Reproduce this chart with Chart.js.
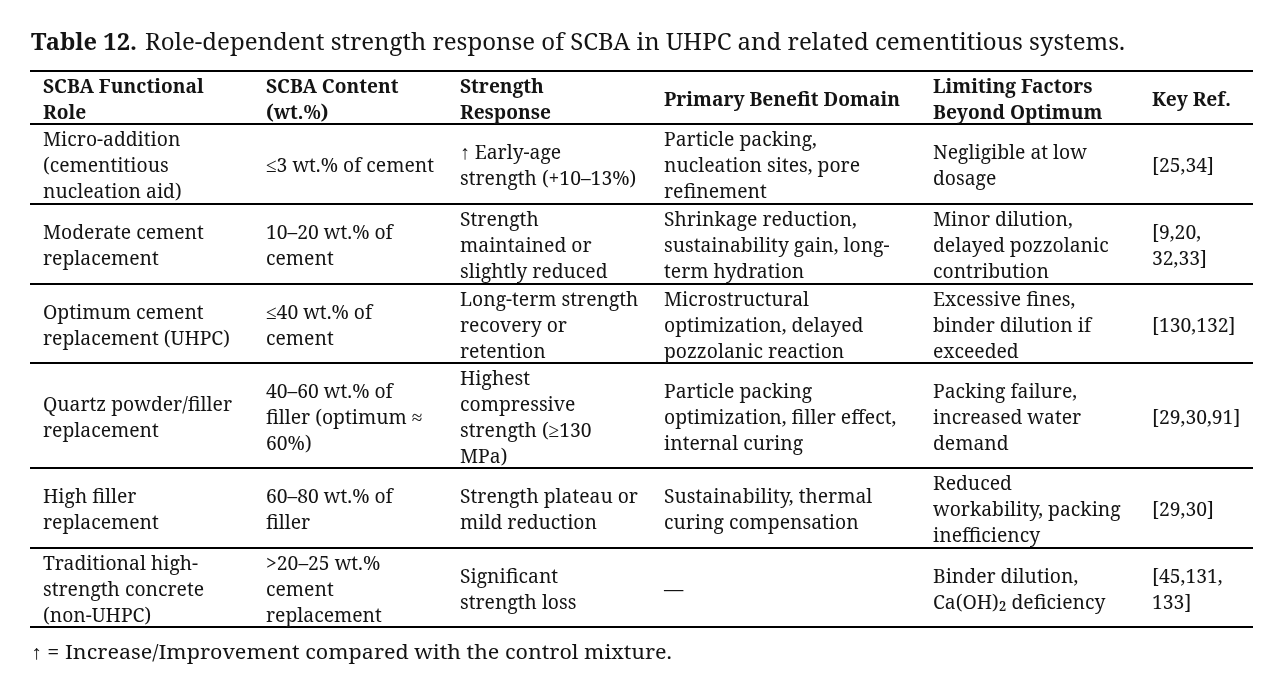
<!DOCTYPE html>
<html>
<head>
<meta charset="utf-8">
<script src="https://cdn.jsdelivr.net/npm/chart.js@4/dist/chart.umd.min.js"></script>
<style>
html,body{margin:0;padding:0;background:#fff;}
#wrap{width:1287px;height:693px;position:relative;}
</style>
</head>
<body>
<div id="wrap"><canvas id="c"></canvas></div>
<script>
// ---- DATA ----
const titleBold = "Table 12.";
const titleText = "Role-dependent strength response of SCBA in UHPC and related cementitious systems.";
const headers = ["SCBA Functional\nRole", "SCBA Content\n(wt.%)", "Strength\nResponse", "Primary Benefit Domain", "Limiting Factors\nBeyond Optimum", "Key Ref."];
const roles = ["Micro-addition\n(cementitious\nnucleation aid)", "Moderate cement\nreplacement", "Optimum cement\nreplacement (UHPC)", "Quartz powder/filler\nreplacement", "High filler\nreplacement", "Traditional high-\nstrength concrete\n(non-UHPC)"];
const contents = ["≤3 wt.% of cement", "10–20 wt.% of\ncement", "≤40 wt.% of\ncement", "40–60 wt.% of\nfiller (optimum ≈\n60%)", "60–80 wt.% of\nfiller", ">20–25 wt.%\ncement\nreplacement"];
const responses = ["↑ Early-age\nstrength (+10–13%)", "Strength\nmaintained or\nslightly reduced", "Long-term strength\nrecovery or\nretention", "Highest\ncompressive\nstrength (≥130\nMPa)", "Strength plateau or\nmild reduction", "Significant\nstrength loss"];
const benefits = ["Particle packing,\nnucleation sites, pore\nrefinement", "Shrinkage reduction,\nsustainability gain, long-\nterm hydration", "Microstructural\noptimization, delayed\npozzolanic reaction", "Particle packing\noptimization, filler effect,\ninternal curing", "Sustainability, thermal\ncuring compensation", "—"];
const limits = ["Negligible at low\ndosage", "Minor dilution,\ndelayed pozzolanic\ncontribution", "Excessive fines,\nbinder dilution if\nexceeded", "Packing failure,\nincreased water\ndemand", "Reduced\nworkability, packing\ninefficiency", "Binder dilution,\nCa(OH)₂ deficiency"];
const refs = ["[25,34]", "[9,20,\n32,33]", "[130,132]", "[29,30,91]", "[29,30]", "[45,131,\n133]"];
const footnote = "↑ = Increase/Improvement compared with the control mixture.";

// ---- LAYOUT (table coordinates on the chart's scales) ----
const colX = [43, 266, 460, 664, 933, 1152];
const tableLeft = 30, tableRight = 1253;
const headTop = 71, headBottom = 124;
const rowEdges = [124, 204, 284, 363, 468, 548, 627];
const lineH = 25.9;
const baseOff = 8.2;
const columns = [roles, contents, responses, benefits, limits, refs];

// pick an installed serif font
function pickFont() {
  const cv = document.createElement('canvas').getContext('2d');
  const probe = 'Shrinkage reduction, sustainability gain 0123';
  cv.font = '40px monospace';
  const base = cv.measureText(probe).width;
  const cands = ['Noto Serif', 'DejaVu Serif', 'Liberation Serif'];
  for (const f of cands) {
    cv.font = "40px '" + f + "', monospace";
    if (Math.abs(cv.measureText(probe).width - base) > 0.5) return "'" + f + "', serif";
  }
  return 'serif';
}
const FONT = pickFont();

const rules = [headTop, headBottom].concat(rowEdges.slice(1));
const ruleDatasets = rules.map((y) => ({
  type: 'line',
  data: [{x: tableLeft, y: y}, {x: tableRight, y: y}],
  borderColor: '#000',
  borderWidth: 2,
  pointRadius: 0,
  showLine: true,
  fill: false
}));

function drawScaled(ctx, text, x, y, sx) {
  ctx.save();
  ctx.translate(x, y);
  ctx.scale(sx, 1);
  ctx.fillText(text, 0, 0);
  ctx.restore();
}

const tablePlugin = {
  id: 'tableText',
  afterDatasetsDraw(chart) {
    const ctx = chart.ctx;
    const xs = chart.scales.x, ys = chart.scales.y;
    ctx.save();
    ctx.fillStyle = '#141414';
    ctx.textBaseline = 'alphabetic';
    ctx.textAlign = 'left';

    const regFont = '20px ' + FONT;
    const boldFont = 'bold 20px ' + FONT;
    ctx.font = regFont;
    const sxReg = 168 / ctx.measureText('≤3 wt.% of cement').width;
    ctx.font = boldFont;
    const sxBold = 236 / ctx.measureText('Primary Benefit Domain').width;

    // title
    ctx.font = 'bold 23px ' + FONT;
    const sxTB = 106 / ctx.measureText(titleBold).width;
    drawScaled(ctx, titleBold, xs.getPixelForValue(31), ys.getPixelForValue(49.5), sxTB);
    ctx.font = '23px ' + FONT;
    const sxTR = 980 / ctx.measureText(titleText).width;
    drawScaled(ctx, titleText, xs.getPixelForValue(145), ys.getPixelForValue(49.5), sxTR);

    // headers
    ctx.font = boldFont;
    headers.forEach((h, c) => {
      const lines = h.split('\n');
      const mid = (headTop + headBottom) / 2;
      lines.forEach((t, i) => {
        const yv = mid + (i - (lines.length - 1) / 2) * lineH + baseOff;
        drawScaled(ctx, t, xs.getPixelForValue(colX[c]), ys.getPixelForValue(yv), sxBold);
      });
    });

    // body
    ctx.font = regFont;
    columns.forEach((col, c) => {
      col.forEach((cell, r) => {
        const lines = cell.split('\n');
        const mid = (rowEdges[r] + rowEdges[r + 1]) / 2;
        lines.forEach((t, i) => {
          const yv = mid + (i - (lines.length - 1) / 2) * lineH + baseOff;
          drawScaled(ctx, t, xs.getPixelForValue(colX[c]), ys.getPixelForValue(yv), sxReg);
        });
      });
    });

    // footnote
    ctx.font = regFont;
    const sxF = 641 / ctx.measureText(footnote).width;
    drawScaled(ctx, footnote, xs.getPixelForValue(31), ys.getPixelForValue(658.5), sxF);
    ctx.restore();
  }
};

new Chart(document.getElementById('c'), {
  type: 'scatter',
  data: { datasets: ruleDatasets },
  options: {
    responsive: true,
    maintainAspectRatio: false,
    animation: false,
    layout: { padding: 0 },
    plugins: { legend: { display: false }, tooltip: { enabled: false }, title: { display: false } },
    scales: {
      x: { type: 'linear', min: 0, max: 1287, display: false },
      y: { type: 'linear', min: 0, max: 693, reverse: true, display: false }
    }
  },
  plugins: [tablePlugin]
});
</script>
</body>
</html>
